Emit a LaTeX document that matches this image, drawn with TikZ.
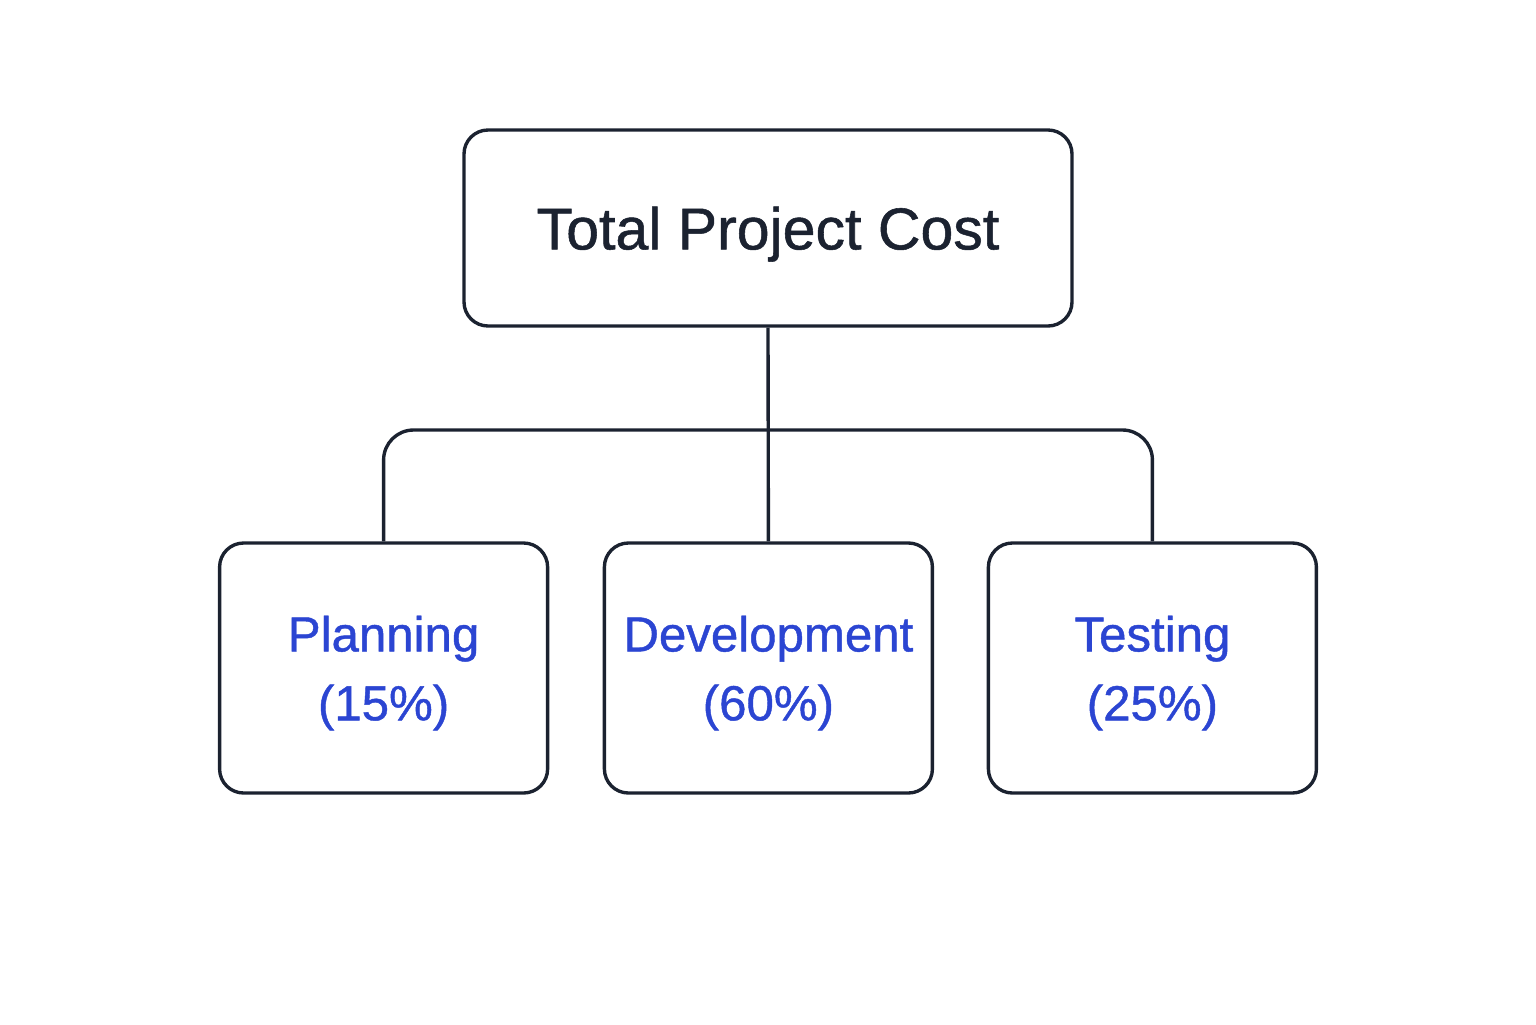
\documentclass[tikz,border=0pt]{standalone}
\usepackage{fontspec}
\setmainfont{Liberation Sans}[BoldFont=Liberation Sans,BoldFeatures={FakeBold=0.9}]
\usetikzlibrary{positioning}
\definecolor{inkdark}{HTML}{1B2230}
\definecolor{inkblue}{HTML}{2B45D2}
\tikzset{
  costbox/.style={draw=inkdark,line width=2.4pt,rounded corners=0.6cm,inner sep=0pt,text depth=0pt},
  partbox/.style={costbox,minimum width=8.2cm,minimum height=6.25cm,align=center,
    text=inkblue,font=\fontsize{35}{49}\selectfont\bfseries},
  link/.style={draw=inkdark,line width=2.4pt}
}
\begin{document}
\begin{tikzpicture}
\useasboundingbox (0,0) rectangle (38.4,-25.6);
% top box
\node (total) [costbox,minimum width=15.2cm,minimum height=4.9cm,text=inkdark,
  font=\fontsize{42}{50}\selectfont\bfseries] at (19.2,-5.7) {Total Project Cost};
% the three parts
\node (plan) [partbox] at (9.59,-16.7) {Planning\\(15\%)};
\node (dev) [partbox] at (19.21,-16.7) {Development\\(60\%)};
\node (test) [partbox] at (28.81,-16.7) {Testing\\(25\%)};
%
\coordinate (bar) at (19.2,-10.75);
\path[link] (total.south) -- (dev.north);
\path[link,rounded corners=0.75cm] (plan.north) |- (bar) -| (test.north);
\end{tikzpicture}
\end{document}
